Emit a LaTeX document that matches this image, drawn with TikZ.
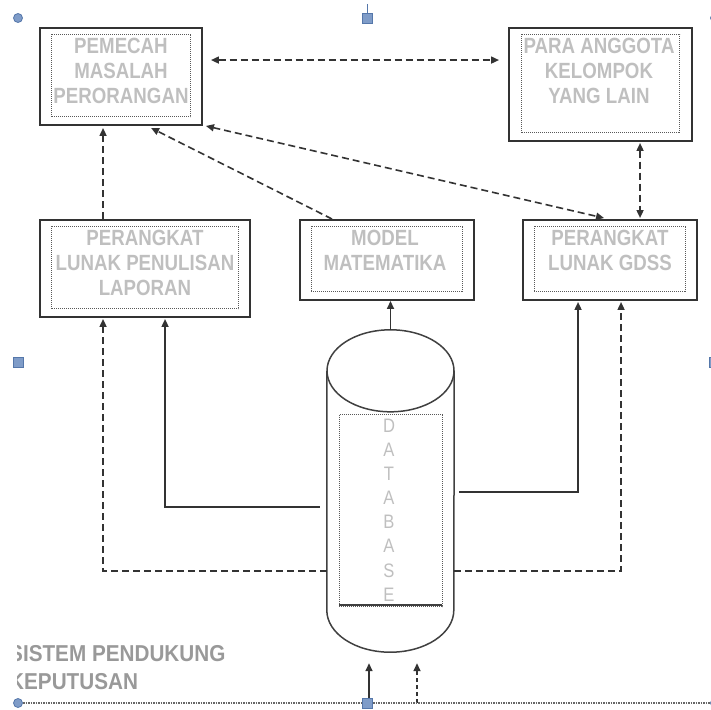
\documentclass[tikz,border=0pt]{standalone}
\usepackage{fontspec}
\setmainfont{Liberation Sans}[FakeStretch=0.85]
\newfontfamily\wideface{Liberation Sans}[FakeStretch=0.9]
\usepackage{xcolor}
\usetikzlibrary{positioning, arrows.meta, calc}

\definecolor{handlefill}{HTML}{7F9CC8}
\definecolor{handleline}{HTML}{5577AA}

\begin{document}
\begin{tikzpicture}[
  x=1pt, y=-1pt,
  >={Triangle[length=8pt, width=7pt]},
  outerbox/.style={draw=black!80, line width=1.9pt, inner sep=0pt},
  innerline/.style={draw=black!65, densely dotted, line width=1pt},
  boxtext/.style={anchor=north, inner sep=0pt, align=center, text=gray!50, font=\bfseries\fontsize{22}{25}\selectfont},
  dbline/.style={draw=black!75, line width=1.5pt},
  link/.style={->, draw=black!80, line width=1.6pt},
  dashlink/.style={link, dash pattern=on 7pt off 4pt},
  handle/.style={fill=handlefill, draw=handleline, line width=0.8pt},
]
\useasboundingbox (0,0) rectangle (711,709);

% ================= kotak =================
\node[outerbox, minimum width=162pt, minimum height=97pt] (pemecah) at (121,76.5) {};
\node[outerbox, minimum width=183pt, minimum height=113pt] (anggota) at (600.5,84.5) {};
\node[outerbox, minimum width=210pt, minimum height=97pt] (laporan) at (145,268.5) {};
\node[outerbox, minimum width=174pt, minimum height=80pt] (model) at (387,260) {};
\node[outerbox, minimum width=174pt, minimum height=80pt] (gdss) at (610,260) {};

% garis dalam (bertitik)
\foreach \n/\dx in {pemecah/12, anggota/13, laporan/12, model/12, gdss/12}
  \draw[innerline] ($(\n.north west)+(\dx,7)$) rectangle ($(\n.south east)+(-\dx,-9)$);

% teks kotak
\node[boxtext] (pemecah-t) at ($(pemecah.north)+(0,10.6)$) {PEMECAH\\MASALAH\\PERORANGAN};
\node[boxtext] (anggota-t) at ($(anggota.north)+(-1.5,10.6)$) {PARA ANGGOTA\\KELOMPOK\\YANG LAIN};
\node[boxtext] (laporan-t) at ($(laporan.north)+(0,10.6)$) {PERANGKAT\\LUNAK PENULISAN\\LAPORAN};
\node[boxtext] (model-t) at ($(model.north)+(-2,10.6)$) {MODEL\\MATEMATIKA};
\node[boxtext] (gdss-t) at ($(gdss.north)+(0,10.6)$) {PERANGKAT\\LUNAK GDSS};

% ================= database =================
\node[minimum width=127pt, minimum height=239pt, inner sep=0pt] (db) at (390.5,490.5) {};
\draw[dbline] (db.north west) -- (db.south west)
  arc[start angle=180, end angle=360, x radius=63.5pt, y radius=42pt] -- (db.north east);
\draw[dbline] (db.north) ellipse[x radius=63.5pt, y radius=41pt];
\draw[innerline] ($(db.north)+(-51.5,44)$) rectangle ($(db.north)+(51.5,236)$);
\node[boxtext, font=\fontsize{19.5}{24.1}\selectfont] (dbtext) at ($(db.north)+(-1.5,48)$) {D\\A\\T\\A\\B\\A\\S\\E};
\draw[black!75, line width=1.4pt] ($(db.north)+(-51.5,234)$) -- ($(db.north)+(51.5,234)$);

% ================= hubungan =================
\draw[dashlink, <->] ($(pemecah.north east)+(8,33)$) -- ($(anggota.north west)+(-9,33)$);
\draw[dashlink] ($(laporan.north west)+(64,0)$) -- ($(pemecah.south west)+(64,2)$);
\draw[dashlink] ($(model.north west)+(33,0)$) -- ($(pemecah.south west)+(112,2)$);
\draw[dashlink, <->] ($(pemecah.south east)+(3,0)$) -- ($(gdss.north west)+(82,-1)$);
\draw[dashlink, <->] ($(anggota.south west)+(132,1)$) -- ($(gdss.north west)+(118,-1)$);

\draw[link] ($(db.north)+(0,-41)$) -- (model.south -| db.north);
\draw[link] ($(db.west)+(-7,16.5)$) -| ($(laporan.south west)+(126,1)$);
\draw[dashlink] ($(db.west)+(0,80.5)$) -| ($(laporan.south west)+(64,1)$);
\draw[link] ($(db.east)+(5,1.5)$) -| ($(gdss.south west)+(56,1)$);
\draw[dashlink] ($(db.east)+(0,80.5)$) -| ($(gdss.south west)+(99,1)$);

\coordinate (feedA) at (369,703);
\coordinate (feedB) at (417,703);
\draw[link] (feedA) -- ($(db.south)+(-21.5,53)$);
\draw[dashlink, dash pattern=on 4pt off 3pt] (feedB) -- ($(db.south)+(26.5,53)$);

% ================= judul =================
\begin{scope}
  \clip (17,630) rectangle (300,700);
  \node[anchor=north west, inner sep=0pt, align=left, text=black!40,
        font=\wideface\bfseries\fontsize{23}{28}\selectfont] (spk) at (9,645) {SISTEM PENDUKUNG\\KEPUTUSAN};
\end{scope}

% ================= pegangan seleksi =================
\draw[black!60, densely dotted, line width=1.5pt] (18,703) -- (711,703);
\draw[handle] (18,18) circle[radius=4.5pt];
\draw[handleline, line width=0.8pt] (367,4) -- (367,13);
\draw[handle] (362,13) rectangle (372,23);
\draw[handle] (715,18) circle[radius=4.5pt];
\draw[handle] (13,357) rectangle (23,367);
\draw[handle] (709,357) rectangle (719,367);
\draw[handle] (18,703) circle[radius=4.5pt];
\draw[handle] (362,698) rectangle (372,708);
\draw[handle] (715,703) circle[radius=4.5pt];
\end{tikzpicture}
\end{document}
